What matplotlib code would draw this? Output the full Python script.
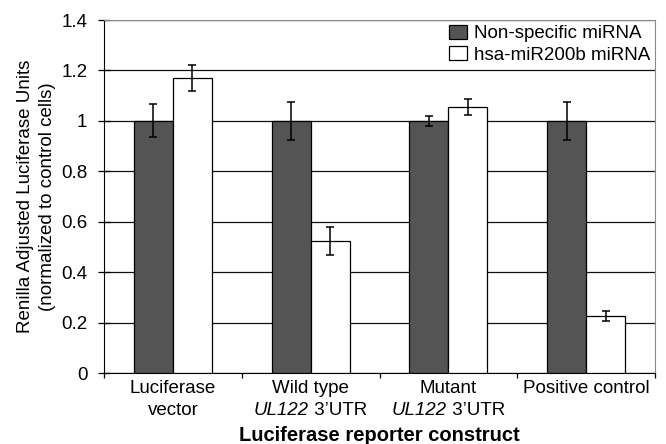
import matplotlib
matplotlib.use("Agg")
import matplotlib.pyplot as plt
import matplotlib.transforms as mtransforms
from matplotlib.offsetbox import TextArea, HPacker, AnnotationBbox
import numpy as np

plt.rcParams['font.family'] = ['Liberation Sans', 'DejaVu Sans']

cat_line1 = ["Luciferase", "Wild type", "Mutant", "Positive control"]
cat_line2_italic = ["", "UL122", "UL122", ""]
cat_line2_plain = ["vector", " 3\u2019UTR", " 3\u2019UTR", ""]
nonspecific = [1.0, 1.0, 1.0, 1.0]
nonspecific_err = [0.065, 0.075, 0.02, 0.075]
mir200b = [1.17, 0.525, 1.055, 0.225]
mir200b_err = [0.05, 0.055, 0.03, 0.02]
series_names = ["Non-specific miRNA", "hsa-miR200b miRNA"]
yticks = [0, 0.2, 0.4, 0.6, 0.8, 1.0, 1.2, 1.4]
ytick_labels = ["0", "0.2", "0.4", "0.6", "0.8", "1", "1.2", "1.4"]

FS = 13.5

fig = plt.figure(figsize=(6.66, 4.44), dpi=100)
ax = fig.add_axes([0.1562, 0.1599, 0.8273, 0.795])

x = np.arange(len(cat_line1))
w = 0.283
ekw = dict(ecolor='black', elinewidth=1.1, capsize=2.8, capthick=1.1)
ax.bar(x - w/2, nonspecific, w, color='#545454', edgecolor='black', linewidth=0.9,
       yerr=nonspecific_err, error_kw=ekw, label=series_names[0], zorder=3)
ax.bar(x + w/2, mir200b, w, color='white', edgecolor='black', linewidth=0.9,
       yerr=mir200b_err, error_kw=ekw, label=series_names[1], zorder=3)

ax.set_xlim(-0.5, len(cat_line1) - 0.5)
ax.set_ylim(0, 1.4)
ax.set_yticks(yticks)
ax.set_yticklabels(ytick_labels, fontsize=FS)
ax.yaxis.grid(True, color='#111111', linewidth=0.9, zorder=0)
ax.set_axisbelow(True)

ax.set_xticks(x)
ax.set_xticklabels(cat_line1, fontsize=FS)
ax.tick_params(axis='x', which='major', length=0, pad=5)
ax.set_xticks(np.arange(len(cat_line1) + 1) - 0.5, minor=True)
ax.tick_params(axis='x', which='minor', length=3.6, direction='out', width=0.9)
ax.tick_params(axis='y', length=8, direction='inout', width=0.9, pad=8)

trans = mtransforms.blended_transform_factory(ax.transData, ax.transAxes)
for xi, it, pl in zip(x, cat_line2_italic, cat_line2_plain):
    parts = []
    if it:
        parts.append(TextArea(it, textprops=dict(fontsize=FS, style='italic')))
    if pl:
        parts.append(TextArea(pl, textprops=dict(fontsize=FS)))
    if not parts:
        continue
    box = HPacker(children=parts, align='baseline', pad=0, sep=0)
    ab = AnnotationBbox(box, (xi, 0), xycoords=trans, xybox=(0, -27),
                        boxcoords='offset points', box_alignment=(0.5, 0.5),
                        frameon=False, pad=0, annotation_clip=False)
    ax.add_artist(ab)

for s in ['top', 'right']:
    ax.spines[s].set_color('#8a8a8a')
for s in ['left', 'bottom']:
    ax.spines[s].set_color('black')

ax.set_ylabel("Renilla Adjusted Luciferase Units\n(normalized to control cells)",
              fontsize=FS, linespacing=1.35)
ax.yaxis.label.set_va('center')
ax.yaxis.set_label_coords(-0.123, 0.5)
ax.set_xlabel("Luciferase reporter construct", fontsize=14.5, fontweight='bold')
ax.xaxis.label.set_va('center')
ax.xaxis.set_label_coords(0.5, -0.176)

leg = ax.legend(loc='upper right', bbox_to_anchor=(1.0, 1.0), fontsize=FS, frameon=False,
                handlelength=0.96, handleheight=0.8, borderaxespad=0, borderpad=0.25,
                handletextpad=0.37, labelspacing=0.2)

fig.savefig("out.png", dpi=100)
